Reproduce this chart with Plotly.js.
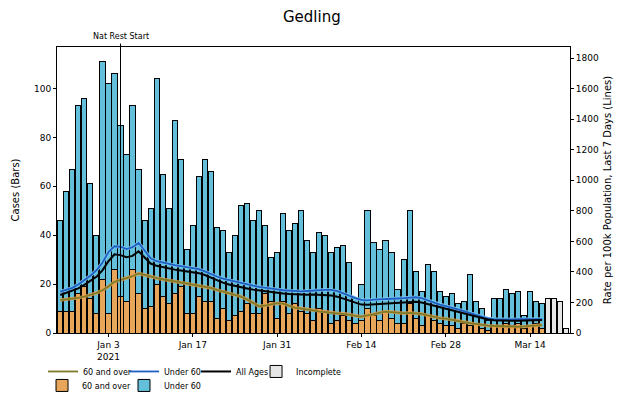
<!DOCTYPE html>
<html>
<head>
<meta charset="utf-8">
<script src="https://cdn.plot.ly/plotly-3.0.1.min.js"></script>
<style>html,body{margin:0;padding:0;background:#fff;}#chart{width:620px;height:397px;}</style>
</head>
<body>
<div id="chart"></div>
<script>
// ---- data ----
const startDate = '2020-12-26';
const over60Cases = [9,9,9,16,19,14,8,22,8,26,15,13,26,16,10,11,20,15,12,16,19,8,8,15,13,13,6,10,5,7,9,12,8,8,16,13,6,13,8,12,9,8,5,10,9,4,5,7,5,4,5,10,7,5,9,6,4,4,12,6,3,7,5,4,3,3,2,4,3,4,2,1,3,3,4,3,4,2,3,4,2];
const under60Cases = [37,49,58,77,77,47,32,89,94,80,70,60,67,51,36,40,84,50,39,71,52,26,36,49,58,53,37,32,28,33,43,41,38,42,28,18,27,36,34,33,41,30,28,31,31,29,30,29,24,10,15,40,30,29,29,27,14,26,38,19,14,21,20,13,12,13,10,9,21,9,8,4,11,11,14,13,13,5,14,9,10];
const incompleteCases = [14,14,13,2];
const over60Rate = [216,220,225,230,238,250,262,280,304,335,350,360,372,390,380,368,360,352,345,338,330,324,318,312,305,295,282,270,260,250,238,220,195,175,180,188,195,192,180,165,160,155,148,140,136,132,130,128,120,112,107,115,125,133,140,137,133,130,132,130,125,115,105,98,94,88,80,72,65,58,52,48,46,44,42,41,41,43,46,50,52];
const under60Rate = [271,282,296,318,345,375,410,460,530,568,565,550,562,590,540,490,470,460,450,444,438,432,425,418,404,385,370,356,346,338,330,320,310,302,295,290,285,280,276,273,272,275,279,281,283,282,274,260,243,228,217,214,218,221,223,226,226,228,233,234,228,214,198,186,176,168,155,143,130,116,104,95,91,89,88,89,90,91,92,93,91];
const allAgesRate = [249,262,275,292,315,340,368,410,470,515,510,496,505,535,492,455,440,430,420,415,410,405,398,392,380,362,345,330,318,308,300,292,284,278,272,268,262,258,255,252,249,250,252,250,248,246,238,225,210,196,186,185,188,190,192,195,196,200,206,205,200,190,175,165,158,150,138,128,118,105,95,88,84,82,80,80,81,83,84,86,85];
const tickDates = ['2021-01-03','2021-01-17','2021-01-31','2021-02-14','2021-02-28','2021-03-14'];
const tickLabels = ['Jan 3<br>2021','Jan 17','Jan 31','Feb 14','Feb 28','Mar 14'];
const restrictionDate = '2021-01-05';
const restrictionLabel = 'Nat Rest Start';

// ---- dates ----
function addDays(s, n) {
  const p = s.split('-').map(Number);
  const d = new Date(Date.UTC(p[0], p[1]-1, p[2] + n));
  return d.toISOString().slice(0, 10);
}
const nComplete = over60Cases.length;
const dates = over60Cases.map((_, i) => addDays(startDate, i));
const incDates = incompleteCases.map((_, i) => addDays(startDate, nComplete + i));

const DAY = 86400000;
const barW = 0.86 * DAY;
const FONT = 'DejaVu Sans, sans-serif';
const ORANGE = '#e8a65a';
const BLUE = '#64bfdb';

const traces = [
  {type:'bar', x:dates, y:over60Cases, name:'60 and over', width:barW,
   marker:{color:ORANGE, line:{color:'#000', width:1}}, legend:'legend2'},
  {type:'bar', x:dates, y:under60Cases, name:'Under 60', width:barW,
   marker:{color:BLUE, line:{color:'#000', width:1}}, legend:'legend6'},
  {type:'bar', x:incDates, y:incompleteCases, name:'Incomplete', width:barW,
   marker:{color:'#e6e6e6', line:{color:'#000', width:1}}, legend:'legend5'},
  // soft halos under the rate lines
  {type:'scatter', mode:'lines', x:dates, y:over60Rate, yaxis:'y2', showlegend:false, hoverinfo:'skip',
   line:{color:'rgba(230,160,70,0.8)', width:3.5}},
  {type:'scatter', mode:'lines', x:dates, y:under60Rate, yaxis:'y2', showlegend:false, hoverinfo:'skip',
   line:{color:'rgba(120,200,240,0.9)', width:3.5}},
  {type:'scatter', mode:'lines', x:dates, y:over60Rate, name:'60 and over', yaxis:'y2',
   line:{color:'#7f7a2a', width:1.8}, legend:'legend'},
  {type:'scatter', mode:'lines', x:dates, y:under60Rate, name:'Under 60', yaxis:'y2',
   line:{color:'#1f5fc4', width:1.8}, legend:'legend3'},
  {type:'scatter', mode:'lines', x:dates, y:allAgesRate, name:'All Ages', yaxis:'y2',
   line:{color:'#000000', width:2}, legend:'legend4'}
];

function leg(x, y) {
  return {orientation:'h', x:x, xanchor:'left', y:y, yanchor:'middle', font:{size:8},
    bgcolor:'rgba(0,0,0,0)', borderwidth:0};
}
const row1 = -0.1345, row2 = -0.1834;

const layout = {
  width:620, height:397,
  margin:{l:57, r:50, t:47, b:64, autoexpand:false},
  paper_bgcolor:'#fff', plot_bgcolor:'#fff',
  font:{family:FONT, size:9, color:'#000'},
  barmode:'stack', bargap:0,
  title:{text:'Gedling', x:0.503, xanchor:'center', y:0.957, yanchor:'middle', font:{family:FONT, size:15, color:'#000'}},
  xaxis:{type:'date', range:['2020-12-25 11:00','2021-03-20 15:00'],
    tickmode:'array', tickvals:tickDates, ticktext:tickLabels,
    ticks:'outside', ticklen:3, tickcolor:'#000', showgrid:false, zeroline:false,
    showline:true, linecolor:'#000', linewidth:1, mirror:true, tickfont:{size:9}},
  yaxis:{range:[0,117], dtick:20, ticks:'outside', ticklen:3, tickcolor:'#000',
    showgrid:false, zeroline:false, showline:true, linecolor:'#000', linewidth:1, mirror:true,
    title:{text:'Cases (Bars)', font:{size:10}, standoff:12}, tickfont:{size:9}},
  yaxis2:{overlaying:'y', side:'right', range:[0,1873], dtick:200, ticks:'outside', ticklen:3,
    tickcolor:'#000', showgrid:false, zeroline:false, showline:true, linecolor:'#000', linewidth:1,
    title:{text:'Rate per 100k Population, Last 7 Days (Lines)', font:{size:10}, standoff:6}, tickfont:{size:9}},
  legend:leg(-0.0273, row1),
  legend3:leg(0.1306, row1),
  legend4:leg(0.271, row1),
  legend5:leg(0.388, row1),
  legend2:leg(-0.0292, row2),
  legend6:leg(0.1306, row2),
  shapes:[{type:'line', xref:'x', yref:'paper', x0:restrictionDate, x1:restrictionDate, y0:0, y1:1.012,
    line:{color:'#000', width:1}}],
  annotations:[{xref:'x', yref:'paper', x:restrictionDate, y:1.013, yanchor:'bottom', xanchor:'center',
    text:restrictionLabel, showarrow:false, font:{size:8}}],
  showlegend:true
};

Plotly.newPlot('chart', traces, layout, {displayModeBar:false, staticPlot:true});
</script>
</body>
</html>
